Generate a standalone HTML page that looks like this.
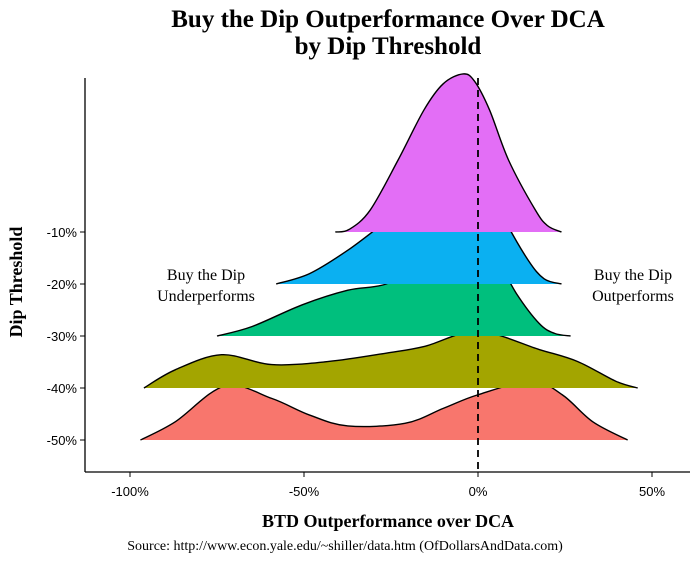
<!DOCTYPE html>
<html><head><meta charset="utf-8"><style>
body{margin:0;background:#fff}
svg text{font-family:"Liberation Serif",serif}
</style></head><body>
<svg width="700" height="560" viewBox="0 0 700 560">
<text x="388" y="27" text-anchor="middle" font-size="25" font-weight="bold">Buy the Dip Outperformance Over DCA</text>
<text x="388" y="54" text-anchor="middle" font-size="25" font-weight="bold">by Dip Threshold</text>
<g id="plot"></g>
<line x1="85" y1="78" x2="85" y2="472" stroke="#000" stroke-width="1.3"/>
<line x1="85" y1="472" x2="690" y2="472" stroke="#000" stroke-width="1.3"/>
<g id="axes"></g>
<text x="206" y="280" text-anchor="middle" font-size="16">Buy the Dip</text>
<text x="206" y="301" text-anchor="middle" font-size="16">Underperforms</text>
<text x="633" y="280" text-anchor="middle" font-size="16">Buy the Dip</text>
<text x="633" y="301" text-anchor="middle" font-size="16">Outperforms</text>
<text x="388" y="527" text-anchor="middle" font-size="18" font-weight="bold">BTD Outperformance over DCA</text>
<text x="345" y="550" text-anchor="middle" font-size="14">Source:  http://www.econ.yale.edu/~shiller/data.htm (OfDollarsAndData.com)</text>
<text transform="translate(22,282) rotate(-90)" text-anchor="middle" font-size="18" font-weight="bold">Dip Threshold</text>
</svg>
<script>
const categories = ["-10%","-20%","-30%","-40%","-50%"];
const colors = ["#E36EF6","#0BB0F1","#00BF7D","#A3A500","#F8766D"];
const xTicks = [-100,-50,0,50];
const xTickLabels = ["-100%","-50%","0%","50%"];
const series10 = [[-41,0],[-37,0.05],[-31,0.42],[-23,1.38],[-15.5,2.35],[-10,2.85],[-4.3,3.04],[-1,2.9],[3.3,2.35],[8.8,1.38],[16.5,0.42],[20,0.12],[24,0]];
const series20 = [[-58,0],[-48.4,0.2],[-37.4,0.65],[-26.4,1.2],[-17.5,1.6],[-9.9,2.1],[-3.9,2.3],[2.2,2.0],[7.7,1.23],[14.4,0.46],[19,0.1],[24,0]];
const series30 = [[-75,0],[-65,0.18],[-50.5,0.6],[-37.4,0.88],[-26.4,1.0],[-15.4,1.4],[-6.6,1.85],[-2.3,1.9],[4.3,1.6],[11,0.82],[17.6,0.24],[22,0.05],[26.6,0]];
const series40 = [[-96,0],[-87,0.35],[-73.7,0.64],[-59.3,0.45],[-42.9,0.51],[-26.4,0.67],[-15.4,0.8],[0,1.09],[17.6,0.74],[28.6,0.51],[39.6,0.13],[45.9,0]];
const series50 = [[-97,0],[-87,0.35],[-72.7,1.04],[-59.3,0.8],[-48.4,0.48],[-37.4,0.27],[-21,0.32],[-9.9,0.61],[0,0.87],[15.4,1.13],[24.2,0.87],[33,0.35],[43,0]];
const allSeries = [series10,series20,series30,series40,series50];

const NS="http://www.w3.org/2000/svg";
const xScale = v => 478 + v*3.48;
const yBase = i => 232 + i*52;
const hScale = d => d*52;
function spline(pts){
  let d="M"+pts[0][0]+","+pts[0][1];
  for(let i=0;i<pts.length-1;i++){
    const p0=pts[Math.max(0,i-1)],p1=pts[i],p2=pts[i+1],p3=pts[Math.min(pts.length-1,i+2)];
    const c1=[p1[0]+(p2[0]-p0[0])/6,p1[1]+(p2[1]-p0[1])/6];
    const c2=[p2[0]-(p3[0]-p1[0])/6,p2[1]-(p3[1]-p1[1])/6];
    d+="C"+c1[0]+","+c1[1]+" "+c2[0]+","+c2[1]+" "+p2[0]+","+p2[1];
  }
  return d;
}
const plot=document.getElementById("plot");
for(let i=allSeries.length-1;i>=0;i--){
  const b=yBase(i);
  const pts=allSeries[i].map(p=>[xScale(p[0]),b-hScale(p[1])]);
  const path=document.createElementNS(NS,"path");
  const top=spline(pts);
  path.setAttribute("d",top+"Z");
  path.setAttribute("fill",colors[i]);
  path.setAttribute("stroke","none");
  
  
  plot.appendChild(path);
  const line=document.createElementNS(NS,"path");
  line.setAttribute("d",top);
  line.setAttribute("fill","none");
  line.setAttribute("stroke","#000");
  line.setAttribute("stroke-width","1.4");
  
  
  plot.appendChild(line);
}
const dash=document.createElementNS(NS,"line");
dash.setAttribute("x1",xScale(0));dash.setAttribute("x2",xScale(0));
dash.setAttribute("y1",78);dash.setAttribute("y2",472);
dash.setAttribute("stroke","#000");dash.setAttribute("stroke-width","1.8");dash.setAttribute("stroke-dasharray","7,5");


plot.appendChild(dash);
const axes=document.getElementById("axes");
categories.forEach((c,i)=>{
  const y=yBase(i);
  const t=document.createElementNS(NS,"line");
  t.setAttribute("x1",80);t.setAttribute("x2",85);t.setAttribute("y1",y);t.setAttribute("y2",y);t.setAttribute("stroke","#000");
  
  
  axes.appendChild(t);
  const l=document.createElementNS(NS,"text");
  l.setAttribute("x",77);l.setAttribute("y",y+5);l.setAttribute("text-anchor","end");l.setAttribute("font-size","13");
  l.setAttribute("style","font-family:'Liberation Sans',sans-serif");
  l.textContent=c;
  
  
  axes.appendChild(l);
});
xTicks.forEach((v,i)=>{
  const x=xScale(v);
  const t=document.createElementNS(NS,"line");
  t.setAttribute("x1",x);t.setAttribute("x2",x);t.setAttribute("y1",472);t.setAttribute("y2",477);t.setAttribute("stroke","#000");
  
  
  axes.appendChild(t);
  const l=document.createElementNS(NS,"text");
  l.setAttribute("x",x);l.setAttribute("y",496);l.setAttribute("text-anchor","middle");l.setAttribute("font-size","13");
  l.setAttribute("style","font-family:'Liberation Sans',sans-serif");
  l.textContent=xTickLabels[i];
  
  
  axes.appendChild(l);
});
</script>
</body></html>
